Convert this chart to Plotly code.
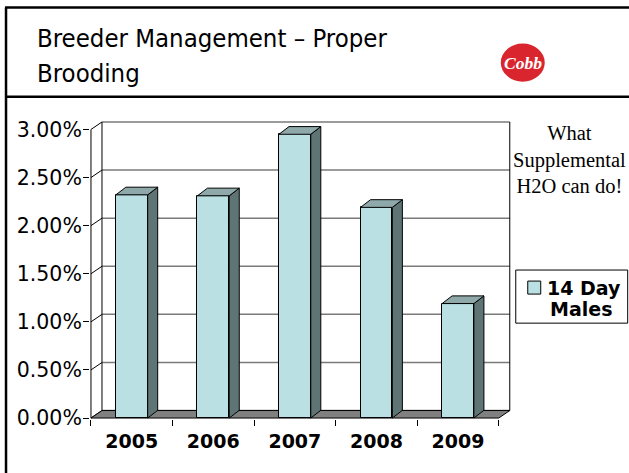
import plotly.graph_objects as go

# ---------------- data ----------------
years = ["2005", "2006", "2007", "2008", "2009"]
males_14_day = [0.0232, 0.0231, 0.0295, 0.0219, 0.0119]
y_tick_values = [0, 0.005, 0.01, 0.015, 0.02, 0.025, 0.03]
series_name_lines = ["14 Day", "Males"]
title_lines = ["Breeder Management \u2013 Proper", "Brooding"]
note_lines = ["What", "Supplemental", "H2O can do!"]

# ---------------- style ----------------
FRONT = "#BAE0E3"
SIDE = "#5F7575"
TOP = "#8FA9AB"
FLOOR = "#808080"
GRID = "#7a7a7a"

BAR_W = 0.39      # bar front width (category units)
DX, DY = 0.135, 0.00078   # wall depth
BX, BY = 0.123, 0.0008    # bar depth

U = 81.6     # px per category
V = 9600.0   # px per unit of value
X0, X1 = -0.5 - 0.012, 4.5 + DX + 0.015
Y0, Y1 = -0.0001, 0.03088
front_left_px = 91.0
zero_px = 417.7
L = front_left_px - (-0.5 - X0) * U
W = (X1 - X0) * U
Bpx = zero_px + (0 - Y0) * V
H = (Y1 - Y0) * V
T = Bpx - H
R = 629 - (L + W)
BM = 473 - Bpx


def px_x(px):
    return (px - L) / W


def px_y(py):
    return (Bpx - py) / H


xs = list(range(len(years)))
fig = go.Figure()

# front faces
fig.add_trace(go.Bar(
    x=xs, y=males_14_day, width=BAR_W, name=" ".join(series_name_lines),
    marker=dict(color=FRONT, line=dict(color="black", width=1)),
    showlegend=False,
))

# side and top faces from values
side_x, side_y, top_x, top_y = [], [], [], []
for x, v in zip(xs, males_14_day):
    r = x + BAR_W / 2
    l = x - BAR_W / 2
    side_x += [r, r + BX, r + BX, r, r, None]
    side_y += [0, BY, v + BY, v, 0, None]
    top_x += [l, r, r + BX, l + BX, l, None]
    top_y += [v, v, v + BY, v + BY, v, None]
fig.add_trace(go.Scatter(x=side_x, y=side_y, fill="toself", fillcolor=SIDE,
                         mode="lines", line=dict(color="black", width=1),
                         hoverinfo="skip", showlegend=False))
fig.add_trace(go.Scatter(x=top_x, y=top_y, fill="toself", fillcolor=TOP,
                         mode="lines", line=dict(color="black", width=1),
                         hoverinfo="skip", showlegend=False))

shapes = []
# back wall gridlines + side wall diagonals
for v in y_tick_values:
    shapes.append(dict(type="line", xref="x", yref="y", layer="below",
                       x0=-0.5 + DX, x1=4.5 + DX, y0=v + DY, y1=v + DY,
                       line=dict(color=GRID, width=1.5)))
    shapes.append(dict(type="line", xref="x", yref="y", layer="below",
                       x0=-0.5, x1=-0.5 + DX, y0=v, y1=v + DY,
                       line=dict(color="black", width=1)))
top_v = y_tick_values[-1]
# walls edges
shapes.append(dict(type="line", xref="x", yref="y", layer="below",
                   x0=-0.5 + DX, x1=-0.5 + DX, y0=DY, y1=top_v + DY,
                   line=dict(color="black", width=1)))
shapes.append(dict(type="line", xref="x", yref="y", layer="below",
                   x0=4.5 + DX, x1=4.5 + DX, y0=DY, y1=top_v + DY,
                   line=dict(color="black", width=1)))
shapes.append(dict(type="line", xref="x", yref="y", layer="below",
                   x0=-0.5, x1=-0.5, y0=0, y1=top_v,
                   line=dict(color="black", width=1)))
# floor
shapes.append(dict(type="path", xref="x", yref="y", layer="below",
                   path=f"M {-0.5} {0} L {4.5} {0} L {4.5 + DX} {DY} L {-0.5 + DX} {DY} Z",
                   fillcolor=FLOOR, line=dict(color="black", width=1)))

# page decorations (paper coords from pixels)
def pline(x0, y0, x1, y1, w):
    return dict(type="line", xref="paper", yref="paper",
                x0=px_x(x0), x1=px_x(x1), y0=px_y(y0), y1=px_y(y1),
                line=dict(color="black", width=w))

shapes.append(pline(6, 8, 6, 480, 2.5))
shapes.append(pline(5, 8, 640, 8, 2.5))
shapes.append(pline(6, 97, 640, 97, 2.5))
# logo
shapes.append(dict(type="circle", xref="paper", yref="paper",
                   x0=px_x(501), x1=px_x(545), y0=px_y(44), y1=px_y(82),
                   fillcolor="#D9262E", line=dict(color="#D9262E", width=0)))
# legend box + swatch
shapes.append(dict(type="rect", xref="paper", yref="paper",
                   x0=px_x(516), x1=px_x(628), y0=px_y(270), y1=px_y(323),
                   fillcolor="white", line=dict(color="black", width=1)))
shapes.append(dict(type="rect", xref="paper", yref="paper",
                   x0=px_x(528), x1=px_x(541), y0=px_y(281), y1=px_y(294),
                   fillcolor=FRONT, line=dict(color="black", width=1)))

annotations = []
title_font = dict(family="DejaVu Sans Condensed, Liberation Sans, sans-serif", size=25.5, color="black")
annotations.append(dict(xref="paper", yref="paper", x=px_x(35), y=px_y(38.5),
                        xanchor="left", yanchor="middle", showarrow=False,
                        text=title_lines[0], font=title_font))
annotations.append(dict(xref="paper", yref="paper", x=px_x(35), y=px_y(73.5),
                        xanchor="left", yanchor="middle", showarrow=False,
                        text=title_lines[1], font=title_font))
annotations.append(dict(xref="paper", yref="paper", x=px_x(523), y=px_y(63.5),
                        xanchor="center", yanchor="middle", showarrow=False,
                        text="Cobb", font=dict(family="Liberation Serif", size=17.5,
                                               color="white", weight="bold", style="italic")))
annotations.append(dict(xref="paper", yref="paper", x=px_x(570), y=px_y(159.5),
                        xanchor="center", yanchor="middle", showarrow=False, align="center",
                        text="<br>".join(note_lines),
                        font=dict(family="Liberation Serif", size=20.5, color="black")))
leg_font = dict(family="DejaVu Sans", size=19, color="black", weight="bold")
annotations.append(dict(xref="paper", yref="paper", x=px_x(584), y=px_y(287.5),
                        xanchor="center", yanchor="middle", showarrow=False,
                        text=series_name_lines[0], font=leg_font))
annotations.append(dict(xref="paper", yref="paper", x=px_x(581), y=px_y(308.5),
                        xanchor="center", yanchor="middle", showarrow=False,
                        text=series_name_lines[1], font=leg_font))

fig.update_layout(
    width=629, height=473,
    margin=dict(l=L, r=R, t=T, b=BM, pad=0),
    paper_bgcolor="white", plot_bgcolor="white",
    shapes=shapes, annotations=annotations,
    bargap=0,
    xaxis=dict(range=[X0, X1], tickmode="array", tickvals=xs, ticktext=years,
               ticks="", showgrid=False, zeroline=False, showline=False,
               tickfont=dict(family="DejaVu Sans", size=19, color="black", weight="bold"),
               ticklabelstandoff=9,
               minor=dict(tickmode="array", tickvals=[i - 0.5 for i in range(len(years) + 1)],
                          ticks="outside", ticklen=6, tickcolor="black", tickwidth=1,
                          showgrid=False)),
    yaxis=dict(range=[Y0, Y1], tickmode="array", tickvals=y_tick_values,
               tickformat=".2%", ticks="outside", ticklen=6, tickcolor="black",
               showgrid=False, zeroline=False, showline=False,
               ticklabelstandoff=-3,
               tickfont=dict(family="DejaVu Sans", size=20.5, color="black")),
)

fig.write_html("out.html", config={"displayModeBar": False},
               post_script="document.body.style.margin='0';")
